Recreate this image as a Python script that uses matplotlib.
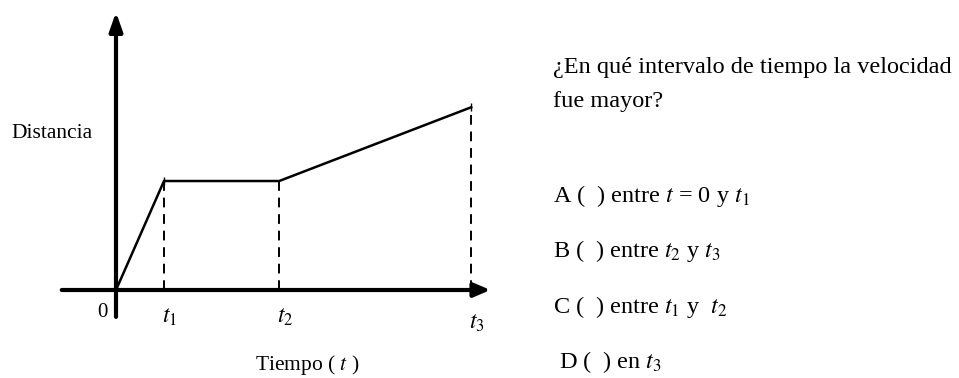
import matplotlib.pyplot as plt

plt.rcParams['font.family'] = 'Liberation Serif'
plt.rcParams['mathtext.fontset'] = 'stix'

# data: time marks and distance reached at each mark
tiempos = [0, 1, 3.4, 7.4]
distancias = [0, 3, 3, 5.03]
etiquetas_t = [r'$t_1$', r'$t_2$', r'$t_3$']

pregunta = ['¿En qué intervalo de tiempo la velocidad', 'fue mayor?']
opciones = [r'A (  ) entre $t$ = 0 y $t_1$',
            r'B (  ) entre $t_2$ y $t_3$',
            r'C (  ) entre $t_1$ y  $t_2$',
            r' D (  ) en $t_3$']

W, H = 959, 378
fig = plt.figure(figsize=(W / 100, H / 100), dpi=100)
ax = fig.add_axes([0, 0, 1, 1])
# 48 px per time unit, 36.33 px per distance unit, origin at (116, 290) px
ax.set_xlim(-116 / 48, (W - 116) / 48)
ax.set_ylim((290 - H) / 36.33, 290 / 36.33)
ax.axis('off')

# axes with arrows
ax.annotate('', xy=(7.8, 0), xytext=(-1.13, 0),
            arrowprops=dict(arrowstyle='-|>,head_length=0.7,head_width=0.3',
                            lw=3, color='black', mutation_scale=14,
                            shrinkA=0, shrinkB=0))
ax.annotate('', xy=(0, 7.65), xytext=(0, -0.74),
            arrowprops=dict(arrowstyle='-|>,head_length=0.8,head_width=0.28',
                            lw=3, color='black', mutation_scale=14,
                            shrinkA=0, shrinkB=0))

# distance-time curve
ax.plot(tiempos, distancias, color='black', lw=1.8, solid_joinstyle='miter')
ax.plot(tiempos[-1], distancias[-1], marker='|', color='black', ms=6, mew=1)
ax.plot(tiempos[1], distancias[1], marker='|', color='black', ms=6, mew=1)

# dashed guides
for t, d in zip(tiempos[1:], distancias[1:]):
    ax.plot([t, t], [0, d], color='black', lw=1.4, linestyle=(0, (5, 3.5)))

# tick labels
ax.text(-0.29, -0.63, '0', fontsize=15, ha='center', va='center')
for t, lab, dy in zip(tiempos[1:], etiquetas_t, [-0.76, -0.76, -0.92]):
    ax.text(t + 0.12, dy, lab, fontsize=17, ha='center', va='center')

ax.text(-2.17, 4.3, 'Distancia', fontsize=15.5, ha='left', va='center')
ax.text(3.98, -2.07, r'Tiempo ( $t$ )', fontsize=15.5, ha='center', va='center')

# question text on the right
fig.text(553 / W, 1 - 73 / H, pregunta[0], fontsize=17.5, ha='left', va='baseline')
fig.text(553 / W, 1 - 107 / H, pregunta[1], fontsize=17.5, ha='left', va='baseline')
for i, op in enumerate(opciones):
    y = [202, 257, 313, 368][i]
    fig.text(553 / W, 1 - y / H, op, fontsize=17.5, ha='left', va='baseline')

fig.savefig('out.png', dpi=100)
